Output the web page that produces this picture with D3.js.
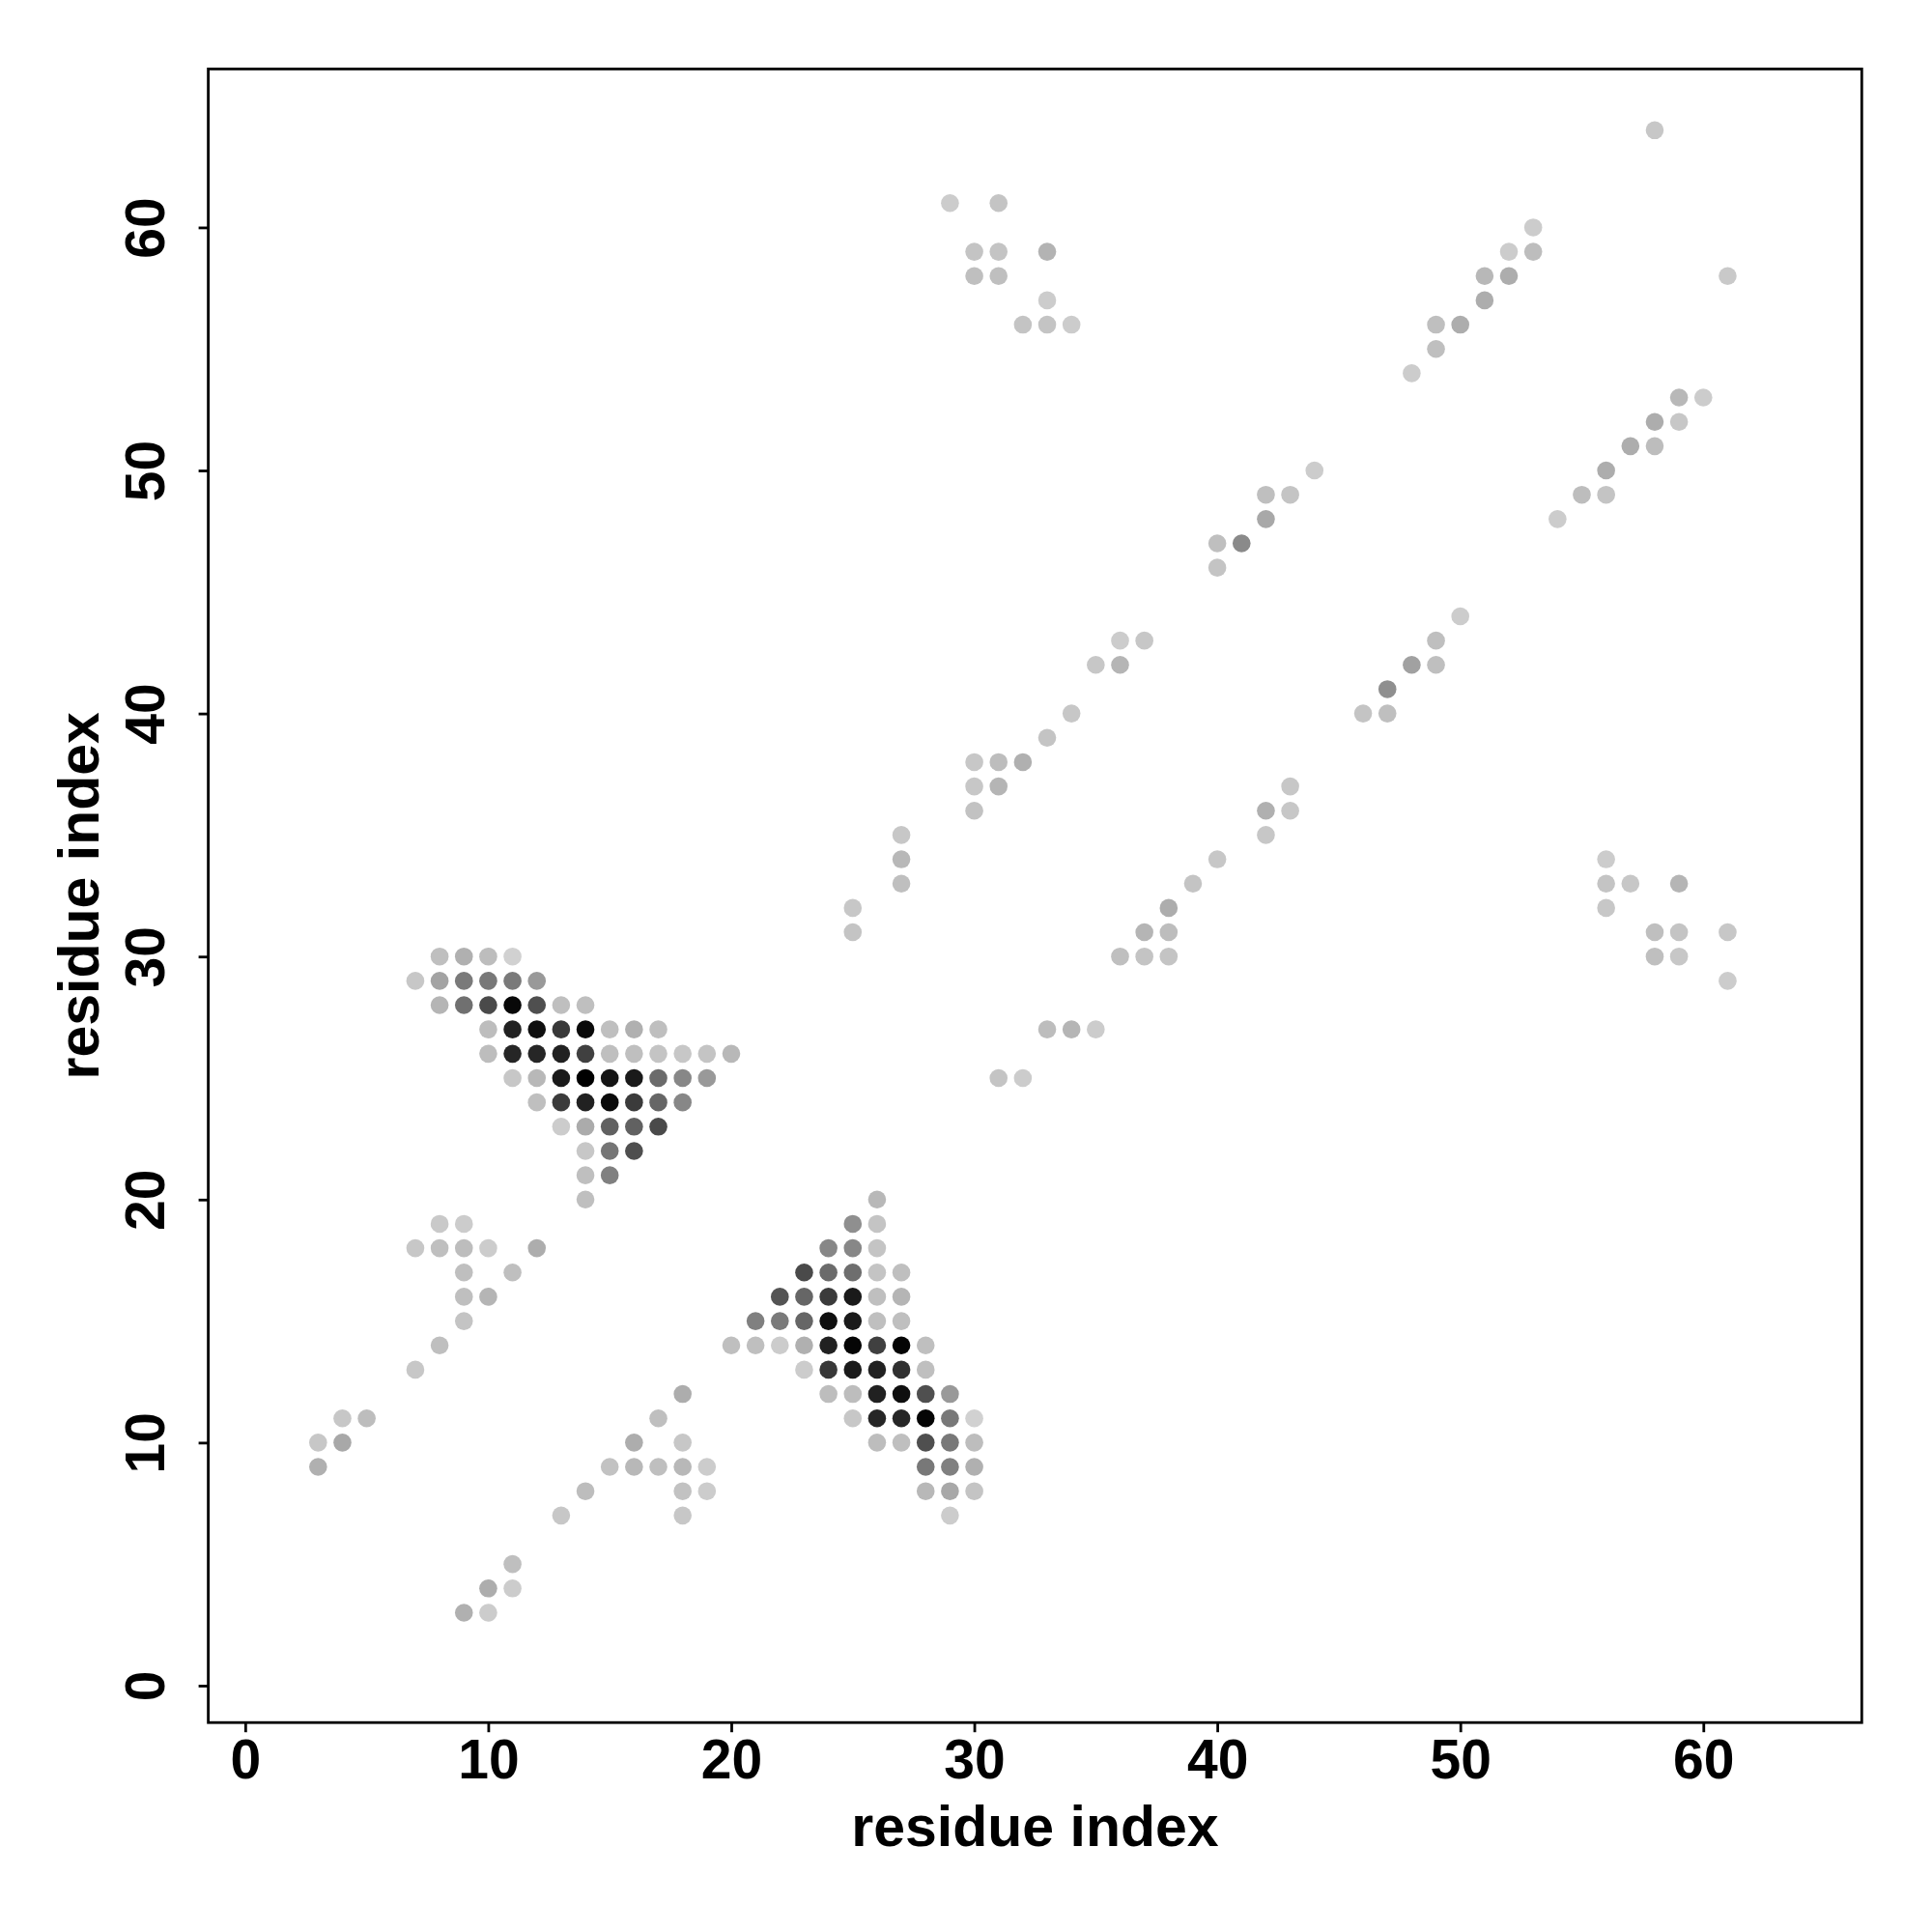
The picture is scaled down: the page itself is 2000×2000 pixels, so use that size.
<!DOCTYPE html>
<html>
<head>
<meta charset="utf-8">
<script src="https://cdn.jsdelivr.net/npm/d3@7"></script>
<style>
  html, body { margin: 0; padding: 0; background: #ffffff; }
  svg { display: block; }
</style>
</head>
<body>
<script>
// ---- data ----
const xTicks = [0, 10, 20, 30, 40, 50, 60];
const yTicks = [0, 10, 20, 30, 40, 50, 60];
const xLabel = "residue index";
const yLabel = "residue index";
const residueRange = [1, 64];

// contacts: [residue i, residue j, contact score 0..1]
const contacts = [
  [58,64,0.22],
  [29,61,0.20],[31,61,0.23],
  [53,60,0.20],
  [30,59,0.23],[31,59,0.23],[33,59,0.30],[52,59,0.20],[53,59,0.26],
  [30,58,0.25],[31,58,0.25],[51,58,0.28],[52,58,0.32],[61,58,0.21],
  [33,57,0.20],[51,57,0.32],
  [32,56,0.23],[33,56,0.23],[34,56,0.20],[49,56,0.25],[50,56,0.32],
  [49,55,0.25],
  [48,54,0.20],
  [59,53,0.28],[60,53,0.20],
  [58,52,0.32],[59,52,0.22],
  [57,51,0.32],[58,51,0.26],
  [44,50,0.20],[56,50,0.32],
  [42,49,0.25],[43,49,0.23],[55,49,0.26],[56,49,0.23],
  [42,48,0.34],[54,48,0.20],
  [40,47,0.25],[41,47,0.46],
  [40,46,0.23],
  [50,44,0.20],
  [36,43,0.20],[37,43,0.22],[49,43,0.25],
  [35,42,0.22],[36,42,0.29],[48,42,0.37],[49,42,0.25],
  [47,41,0.44],
  [34,40,0.22],[46,40,0.23],[47,40,0.25],
  [33,39,0.23],
  [30,38,0.22],[31,38,0.26],[32,38,0.31],
  [30,37,0.22],[31,37,0.29],[43,37,0.22],
  [30,36,0.24],[42,36,0.31],[43,36,0.22],
  [27,35,0.22],[42,35,0.22],
  [27,34,0.28],[40,34,0.22],[56,34,0.20],
  [27,33,0.25],[39,33,0.23],[56,33,0.23],[57,33,0.22],[59,33,0.29],
  [25,32,0.22],[38,32,0.32],[56,32,0.22],
  [25,31,0.23],[37,31,0.29],[38,31,0.26],[58,31,0.25],[59,31,0.23],[61,31,0.22],
  [8,30,0.25],[9,30,0.31],[10,30,0.26],[11,30,0.18],[36,30,0.25],[37,30,0.23],[38,30,0.23],[58,30,0.25],[59,30,0.22],
  [7,29,0.22],[8,29,0.36],[9,29,0.52],[10,29,0.53],[11,29,0.52],[12,29,0.40],[61,29,0.20],
  [8,28,0.29],[9,28,0.56],[10,28,0.71],[11,28,0.97],[12,28,0.69],[13,28,0.25],[14,28,0.25],
  [10,27,0.26],[11,27,0.87],[12,27,0.94],[13,27,0.78],[14,27,0.96],[15,27,0.25],[16,27,0.31],[17,27,0.25],[33,27,0.26],[34,27,0.29],[35,27,0.20],
  [10,26,0.26],[11,26,0.85],[12,26,0.85],[13,26,0.87],[14,26,0.75],[15,26,0.25],[16,26,0.25],[17,26,0.23],[18,26,0.22],[19,26,0.23],[20,26,0.28],
  [11,25,0.22],[12,25,0.28],[13,25,0.90],[14,25,1.00],[15,25,0.92],[16,25,0.90],[17,25,0.58],[18,25,0.47],[19,25,0.40],[31,25,0.23],[32,25,0.20],
  [12,24,0.25],[13,24,0.77],[14,24,0.87],[15,24,0.96],[16,24,0.77],[17,24,0.60],[18,24,0.47],
  [13,23,0.20],[14,23,0.33],[15,23,0.62],[16,23,0.62],[17,23,0.71],
  [14,22,0.22],[15,22,0.54],[16,22,0.69],
  [14,21,0.25],[15,21,0.50],
  [14,20,0.25],[26,20,0.28],
  [8,19,0.21],[9,19,0.20],[25,19,0.44],[26,19,0.23],
  [7,18,0.22],[8,18,0.25],[9,18,0.26],[10,18,0.20],[12,18,0.32],[24,18,0.47],[25,18,0.47],[26,18,0.23],
  [9,17,0.25],[11,17,0.25],[23,17,0.71],[24,17,0.58],[25,17,0.57],[26,17,0.23],[27,17,0.25],
  [9,16,0.25],[10,16,0.29],[22,16,0.67],[23,16,0.60],[24,16,0.77],[25,16,0.90],[26,16,0.25],[27,16,0.29],
  [9,15,0.23],[21,15,0.50],[22,15,0.52],[23,15,0.60],[24,15,0.94],[25,15,0.90],[26,15,0.25],[27,15,0.25],
  [8,14,0.25],[20,14,0.25],[21,14,0.25],[22,14,0.20],[23,14,0.31],[24,14,0.87],[25,14,0.98],[26,14,0.75],[27,14,0.98],[28,14,0.25],
  [7,13,0.22],[23,13,0.20],[24,13,0.78],[25,13,0.90],[26,13,0.87],[27,13,0.81],[28,13,0.25],
  [18,12,0.32],[24,12,0.26],[25,12,0.26],[26,12,0.87],[27,12,0.94],[28,12,0.69],[29,12,0.40],
  [4,11,0.22],[5,11,0.26],[17,11,0.25],[25,11,0.22],[26,11,0.85],[27,11,0.85],[28,11,0.98],[29,11,0.53],[30,11,0.18],
  [3,10,0.22],[4,10,0.34],[16,10,0.32],[18,10,0.22],[26,10,0.26],[27,10,0.25],[28,10,0.69],[29,10,0.53],[30,10,0.26],
  [3,9,0.31],[15,9,0.24],[16,9,0.28],[17,9,0.25],[18,9,0.28],[19,9,0.20],[28,9,0.53],[29,9,0.50],[30,9,0.31],
  [14,8,0.26],[18,8,0.24],[19,8,0.20],[28,8,0.28],[29,8,0.34],[30,8,0.23],
  [13,7,0.22],[18,7,0.22],[29,7,0.20],
  [11,5,0.25],
  [10,4,0.32],[11,4,0.20],
  [9,3,0.31],[10,3,0.20]
];

// ---- layout ----
const W = 2000, H = 2000;
const plot = { left: 215.6, right: 1927.3, top: 71.4, bottom: 1783.2 };
const pad = 0.04 * (residueRange[1] - residueRange[0]);
const domain = [residueRange[0] - pad, residueRange[1] + pad];

const x = d3.scaleLinear().domain(domain).range([plot.left, plot.right]);
const y = d3.scaleLinear().domain(domain).range([plot.bottom, plot.top]);
const shade = d3.scaleLinear().domain([0, 1]).range(["#ffffff", "#000000"]);

const FONT = "'Liberation Sans', Arial, Helvetica, sans-serif";

const svg = d3.select("body").append("svg")
  .attr("width", W).attr("height", H)
  .attr("viewBox", `0 0 ${W} ${H}`);

svg.append("rect").attr("width", W).attr("height", H).attr("fill", "#ffffff");

// points
svg.append("g").selectAll("circle")
  .data(contacts)
  .join("circle")
  .attr("cx", d => x(d[0]))
  .attr("cy", d => y(d[1]))
  .attr("r", 9.3)
  .attr("fill", d => shade(d[2]));

// frame
svg.append("rect")
  .attr("x", plot.left).attr("y", plot.top)
  .attr("width", plot.right - plot.left)
  .attr("height", plot.bottom - plot.top)
  .attr("fill", "none")
  .attr("stroke", "#000").attr("stroke-width", 2.8);

// x axis
const xAxis = svg.append("g")
  .attr("transform", `translate(0,${plot.bottom})`)
  .call(d3.axisBottom(x).tickValues(xTicks).tickSize(10).tickPadding(6).tickFormat(d3.format("d")));
xAxis.select(".domain").remove();
xAxis.selectAll(".tick line").attr("stroke", "#000").attr("stroke-width", 2.8);
xAxis.selectAll(".tick text")
  .attr("y", null).attr("dy", null)
  .attr("transform", null)
  .attr("y", 1841 - plot.bottom)
  .attr("fill", "#000")
  .style("font-family", FONT).style("font-weight", "bold").style("font-size", "57px");

// y axis
const yAxis = svg.append("g")
  .attr("transform", `translate(${plot.left},0)`)
  .call(d3.axisLeft(y).tickValues(yTicks).tickSize(10).tickPadding(6).tickFormat(d3.format("d")));
yAxis.select(".domain").remove();
yAxis.selectAll(".tick line").attr("stroke", "#000").attr("stroke-width", 2.8);
yAxis.selectAll(".tick text")
  .attr("x", null).attr("dy", null)
  .attr("text-anchor", "middle")
  .attr("transform", `translate(${170 - plot.left},0) rotate(-90)`)
  .attr("fill", "#000")
  .style("font-family", FONT).style("font-weight", "bold").style("font-size", "57px");

// axis titles
svg.append("text")
  .attr("x", (plot.left + plot.right) / 2)
  .attr("y", 1911)
  .attr("text-anchor", "middle")
  .attr("fill", "#000")
  .style("font-family", FONT).style("font-weight", "bold").style("font-size", "59px")
  .text(xLabel);

svg.append("text")
  .attr("transform", `translate(102,${(plot.top + plot.bottom) / 2}) rotate(-90)`)
  .attr("text-anchor", "middle")
  .attr("fill", "#000")
  .style("font-family", FONT).style("font-weight", "bold").style("font-size", "59px")
  .text(yLabel);
</script>
</body>
</html>
